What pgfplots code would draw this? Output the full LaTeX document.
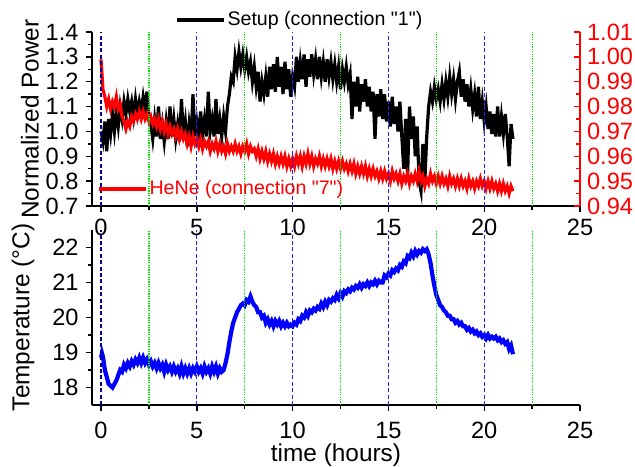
\documentclass[border=0pt]{standalone}
\usepackage{pgfplots}
\pgfplotsset{compat=1.18}
\usepackage{fontspec}
\setmainfont{Liberation Sans}[Ligatures=TeXOff]

\definecolor{vgreen}{RGB}{0,230,0}
\definecolor{vblue}{RGB}{30,30,255}
\definecolor{vnavy}{RGB}{0,0,150}

\pgfplotsset{
  every non boxed x axis/.style={},
  every non boxed y axis/.style={},
  /pgf/number format/assume math mode=true,
  base/.style={
    scale only axis, width=244pt,
    xmin=-0.47, xmax=25, enlargelimits=false,
    tick align=outside,
    major tick length=3.2pt, minor tick length=1.8pt,
    every tick/.style={black, line width=0.7pt},
    axis line style={-, line width=0.75pt},
    tick label style={font=\fontsize{11.8}{13}\selectfont},
    label style={font=\fontsize{12.2}{14}\selectfont},
    legend style={font=\fontsize{9.8}{11}\selectfont, draw=none, fill=none,
      inner sep=0pt, nodes={inner sep=1pt},
      /tikz/every even column/.append style={column sep=3pt}},
    legend image code/.code={\draw[#1] (0pt,0pt) -- (23.5pt,0pt);},
  },
  vl/.style={forget plot, line width=0.6pt},
  vgr/.style={vl, vgreen, dash pattern=on 0.6pt off 0.6pt},
  vbl/.style={vl, vblue, dash pattern=on 2pt off 1.2pt},
  vnv/.style={vl, vnavy, dash pattern=on 2pt off 1.2pt},
}

\begin{document}
\begin{tikzpicture}

% ---------------- bottom panel: temperature ----------------
\begin{axis}[base,
  at={(0,0)}, anchor=south west, height=87.5pt,
  axis x line*=bottom, axis y line*=left,
  ymin=17.5, ymax=22.5,
  xtick={0,5,10,15,20,25}, minor x tick num=1,
  ytick={18,19,20,21,22}, minor y tick num=1,
  xticklabel shift=2pt,
  xlabel={time (hours)}, ylabel={Temperature (°C)},
  xlabel style={at={(axis description cs:0.5,-0.286)}, anchor=center},
  ylabel style={at={(axis description cs:-0.141,0.5)}, anchor=center},
]
\addplot[blue, line width=2.1pt] coordinates {
(0.0,18.85)(0.05,18.98)(0.1,18.88)(0.15,18.7)(0.2,18.5)(0.3,18.3)(0.4,18.1)(0.5,18.05)(0.6,18.0)(0.7,18.1)
(0.8,18.2)(0.9,18.35)(1.0,18.5)(1.1,18.45)(1.2,18.65)(1.3,18.55)(1.4,18.7)(1.5,18.6)(1.6,18.75)(1.7,18.65)
(1.8,18.8)(1.9,18.7)(2.0,18.85)(2.1,18.7)(2.2,18.85)(2.3,18.7)(2.4,18.8)(2.5,18.65)(2.6,18.75)(2.7,18.6)
(2.8,18.7)(2.9,18.55)(3.0,18.7)(3.1,18.55)(3.2,18.65)(3.3,18.45)(3.4,18.65)(3.5,18.5)(3.6,18.6)(3.7,18.45)
(3.8,18.6)(3.9,18.45)(4.0,18.55)(4.1,18.4)(4.2,18.6)(4.3,18.4)(4.4,18.55)(4.5,18.4)(4.6,18.55)(4.7,18.4)
(4.8,18.55)(4.9,18.45)(5.0,18.6)(5.1,18.45)(5.2,18.55)(5.3,18.4)(5.4,18.6)(5.5,18.45)(5.6,18.55)(5.7,18.4)
(5.8,18.6)(5.9,18.45)(6.0,18.6)(6.1,18.4)(6.2,18.55)(6.3,18.45)(6.4,18.5)(6.5,18.7)(6.6,18.95)(6.7,19.3)
(6.8,19.6)(6.9,19.85)(7.0,20.0)(7.1,20.15)(7.2,20.25)(7.3,20.35)(7.4,20.4)(7.5,20.35)(7.6,20.5)(7.7,20.45)
(7.8,20.6)(7.9,20.45)(8.0,20.35)(8.1,20.3)(8.2,20.15)(8.3,20.15)(8.4,20.0)(8.5,20.05)(8.6,19.85)(8.7,19.95)
(8.8,19.8)(8.9,19.9)(9.0,19.75)(9.1,19.9)(9.2,19.8)(9.3,19.9)(9.4,19.75)(9.5,19.85)(9.6,19.75)(9.7,19.85)
(9.8,19.75)(9.9,19.8)(10.0,19.75)(10.1,19.85)(10.2,19.8)(10.3,19.95)(10.4,19.9)(10.5,20.05)(10.6,20.0)(10.7,20.15)
(10.8,20.05)(10.9,20.2)(11.0,20.15)(11.1,20.25)(11.2,20.2)(11.3,20.3)(11.4,20.25)(11.5,20.4)(11.6,20.3)(11.7,20.45)
(11.8,20.35)(11.9,20.5)(12.0,20.45)(12.1,20.55)(12.2,20.5)(12.3,20.65)(12.4,20.55)(12.5,20.7)(12.6,20.6)(12.7,20.75)
(12.8,20.7)(12.9,20.8)(13.0,20.75)(13.1,20.85)(13.2,20.8)(13.3,20.9)(13.4,20.85)(13.5,20.95)(13.6,20.85)(13.7,20.95)
(13.8,20.9)(13.9,21.0)(14.0,20.9)(14.1,21.0)(14.2,20.95)(14.3,21.05)(14.4,20.95)(14.5,21.05)(14.6,21.0)(14.7,21.0)
(14.8,21.2)(14.9,21.15)(15.0,21.25)(15.1,21.2)(15.2,21.35)(15.3,21.3)(15.4,21.4)(15.5,21.35)(15.6,21.5)(15.7,21.45)
(15.8,21.6)(15.9,21.55)(16.0,21.75)(16.1,21.7)(16.2,21.85)(16.3,21.75)(16.4,21.9)(16.5,21.8)(16.6,21.9)(16.7,21.85)
(16.8,21.95)(16.9,21.9)(17.0,21.95)(17.1,21.8)(17.2,21.55)(17.3,21.2)(17.4,20.9)(17.5,20.65)(17.6,20.5)(17.7,20.35)
(17.8,20.3)(17.9,20.2)(18.0,20.15)(18.1,20.05)(18.2,20.05)(18.3,19.95)(18.4,19.95)(18.5,19.85)(18.6,19.9)(18.7,19.8)
(18.8,19.85)(18.9,19.75)(19.0,19.75)(19.1,19.65)(19.2,19.7)(19.3,19.6)(19.4,19.65)(19.5,19.55)(19.6,19.6)(19.7,19.5)
(19.8,19.55)(19.9,19.45)(20.0,19.5)(20.1,19.4)(20.2,19.5)(20.3,19.4)(20.4,19.45)(20.5,19.4)(20.6,19.45)(20.7,19.35)
(20.8,19.4)(20.9,19.3)(21.0,19.35)(21.1,19.25)(21.2,19.3)(21.3,19.1)(21.4,19.2)(21.5,18.95)
};
\addplot[vnv] coordinates {(0,17.5)(0,22.5)};
\addplot[vgr] coordinates {(2.5,17.5)(2.5,22.5)};
\addplot[vbl] coordinates {(5,17.5)(5,22.5)};
\addplot[vgr] coordinates {(7.5,17.5)(7.5,22.5)};
\addplot[vbl] coordinates {(10,17.5)(10,22.5)};
\addplot[vgr] coordinates {(12.5,17.5)(12.5,22.5)};
\addplot[vbl] coordinates {(15,17.5)(15,22.5)};
\addplot[vgr] coordinates {(17.5,17.5)(17.5,22.5)};
\addplot[vbl] coordinates {(20,17.5)(20,22.5)};
\addplot[vgr] coordinates {(22.5,17.5)(22.5,22.5)};
\end{axis}

% ---------------- top panel: normalized power (left) ----------------
\begin{axis}[base,
  at={(0,99.5pt)}, anchor=south west, height=87pt,
  axis x line*=bottom, axis y line*=left,
  ymin=0.7, ymax=1.4,
  xtick={0,5,10,15,20,25}, minor x tick num=1,
  ytick={0.7,0.8,0.9,1.0,1.1,1.2,1.3,1.4}, minor y tick num=1,
  yticklabel style={/pgf/number format/.cd, fixed, fixed zerofill, precision=1},
  ylabel={Normalized Power},
  ylabel style={at={(axis description cs:-0.127,0.5)}, anchor=center},
  legend style={at={(axis description cs:0.170,1.069)}, anchor=west},
]
\addplot[black, line width=1.6pt] coordinates {
(0.0,1.00)(0.1,0.96)(0.2,1.04)(0.3,0.92)(0.4,1.05)(0.5,0.99)(0.6,1.07)(0.7,1.00)(0.8,1.08)(0.9,1.02)
(1.0,1.10)(1.1,1.05)(1.2,1.12)(1.3,1.07)(1.4,1.13)(1.5,1.08)(1.6,1.12)(1.7,1.06)(1.8,1.13)(1.9,1.07)
(2.0,1.12)(2.1,1.08)(2.2,1.14)(2.3,1.09)(2.4,1.16)(2.5,1.06)(2.6,1.03)(2.7,0.97)(2.8,1.05)(2.9,0.98)
(3.0,1.10)(3.1,0.97)(3.2,1.03)(3.3,0.96)(3.4,1.04)(3.5,0.97)(3.6,1.10)(3.7,0.98)(3.8,1.05)(3.9,0.97)
(4.0,1.03)(4.1,0.96)(4.2,1.13)(4.3,0.98)(4.4,1.04)(4.5,0.94)(4.6,1.03)(4.7,0.97)(4.8,1.15)(4.9,0.98)
(5.0,1.04)(5.1,0.98)(5.2,1.08)(5.3,0.99)(5.4,1.05)(5.5,0.98)(5.6,1.16)(5.7,1.00)(5.8,1.05)(5.9,0.98)
(6.0,1.13)(6.1,0.99)(6.2,1.05)(6.3,0.98)(6.4,1.06)(6.5,1.00)(6.6,1.10)(6.7,1.15)(6.8,1.22)(6.9,1.20)
(7.0,1.30)(7.1,1.25)(7.2,1.32)(7.3,1.26)(7.4,1.31)(7.5,1.25)(7.6,1.30)(7.7,1.24)(7.8,1.28)(7.9,1.20)
(8.0,1.26)(8.1,1.18)(8.2,1.24)(8.3,1.12)(8.4,1.20)(8.5,1.15)(8.6,1.22)(8.7,1.14)(8.8,1.26)(8.9,1.17)
(9.0,1.27)(9.1,1.16)(9.2,1.30)(9.3,1.18)(9.4,1.26)(9.5,1.15)(9.6,1.28)(9.7,1.17)(9.8,1.25)(9.9,1.14)
(10.0,1.22)(10.1,1.18)(10.2,1.30)(10.3,1.20)(10.4,1.28)(10.5,1.21)(10.6,1.31)(10.7,1.18)(10.8,1.29)(10.9,1.22)
(11.0,1.31)(11.1,1.23)(11.2,1.29)(11.3,1.21)(11.4,1.30)(11.5,1.22)(11.6,1.28)(11.7,1.20)(11.8,1.29)(11.9,1.22)
(12.0,1.28)(12.1,1.21)(12.2,1.27)(12.3,1.20)(12.4,1.26)(12.5,1.17)(12.6,1.25)(12.7,1.20)(12.8,1.26)(12.9,1.19)
(13.0,1.23)(13.1,1.05)(13.2,1.20)(13.3,1.10)(13.4,1.22)(13.5,1.08)(13.6,1.19)(13.7,1.12)(13.8,1.21)(13.9,1.10)
(14.0,1.18)(14.1,1.08)(14.2,1.16)(14.3,0.97)(14.4,1.15)(14.5,1.06)(14.6,1.17)(14.7,1.05)(14.8,1.15)(14.9,1.04)
(15.0,1.12)(15.1,1.02)(15.2,1.14)(15.3,1.03)(15.4,1.10)(15.5,1.00)(15.6,1.12)(15.7,0.98)(15.8,0.85)(15.9,1.05)
(16.0,0.82)(16.1,1.10)(16.2,0.97)(16.3,1.06)(16.4,0.90)(16.5,1.02)(16.6,0.80)(16.7,0.76)(16.8,0.95)(16.9,0.80)
(17.0,0.98)(17.1,1.10)(17.2,1.16)(17.3,1.12)(17.4,1.18)(17.5,1.13)(17.6,1.17)(17.7,1.12)(17.8,1.19)(17.9,1.13)
(18.0,1.20)(18.1,1.14)(18.2,1.22)(18.3,1.15)(18.4,1.21)(18.5,1.13)(18.6,1.20)(18.7,1.24)(18.8,1.14)(18.9,1.21)
(19.0,1.12)(19.1,1.19)(19.2,1.10)(19.3,1.17)(19.4,1.09)(19.5,1.15)(19.6,1.06)(19.7,1.18)(19.8,1.05)(19.9,1.12)
(20.0,1.04)(20.1,1.10)(20.2,1.01)(20.3,1.08)(20.4,0.99)(20.5,1.07)(20.6,0.98)(20.7,1.10)(20.8,0.98)(20.9,1.06)
(21.0,0.99)(21.1,1.07)(21.2,0.98)(21.3,0.86)(21.4,1.03)(21.5,0.97)
};
\legend{Setup (connection "1")}
\end{axis}

% ---------------- top panel: HeNe (right axis) ----------------
\begin{axis}[base,
  at={(0,99.5pt)}, anchor=south west, height=87pt,
  axis x line=none, axis y line*=right,
  ymin=0.94, ymax=1.01,
  ytick={0.94,0.95,0.96,0.97,0.98,0.99,1.00,1.01}, minor y tick num=1,
  ytick align=inside,
  yticklabel style={red, /pgf/number format/.cd, fixed, fixed zerofill, precision=2},
  y axis line style={red},
  every y tick/.style={red, line width=0.7pt},
  legend style={at={(axis description cs:0.0102,0.098)}, anchor=west, text=red},
]
\addplot[red, line width=1.6pt] coordinates {
(0.0,0.999)(0.05,0.993)(0.1,0.987)(0.2,0.984)(0.3,0.980)(0.4,0.983)(0.5,0.979)(0.6,0.982)(0.7,0.980)(0.8,0.984)
(0.9,0.979)(1.0,0.981)(1.1,0.976)(1.2,0.974)(1.3,0.971)(1.4,0.974)(1.5,0.972)(1.6,0.976)(1.7,0.974)(1.8,0.977)
(1.9,0.975)(2.0,0.978)(2.1,0.975)(2.2,0.978)(2.3,0.975)(2.4,0.977)(2.5,0.974)(2.6,0.976)(2.7,0.973)(2.8,0.975)
(2.9,0.972)(3.0,0.975)(3.1,0.971)(3.2,0.974)(3.3,0.970)(3.4,0.973)(3.5,0.969)(3.6,0.972)(3.7,0.969)(3.8,0.971)
(3.9,0.968)(4.0,0.971)(4.1,0.967)(4.2,0.970)(4.3,0.967)(4.4,0.969)(4.5,0.965)(4.6,0.968)(4.7,0.964)(4.8,0.968)
(4.9,0.965)(5.0,0.967)(5.1,0.964)(5.2,0.967)(5.3,0.963)(5.4,0.966)(5.5,0.964)(5.6,0.966)(5.7,0.962)(5.8,0.965)
(5.9,0.963)(6.0,0.966)(6.1,0.962)(6.2,0.965)(6.3,0.962)(6.4,0.964)(6.5,0.961)(6.6,0.965)(6.7,0.962)(6.8,0.964)
(6.9,0.962)(7.0,0.965)(7.1,0.962)(7.2,0.964)(7.3,0.961)(7.4,0.964)(7.5,0.962)(7.6,0.965)(7.7,0.961)(7.8,0.964)
(7.9,0.962)(8.0,0.963)(8.1,0.960)(8.2,0.963)(8.3,0.959)(8.4,0.962)(8.5,0.959)(8.6,0.962)(8.7,0.958)(8.8,0.961)
(8.9,0.958)(9.0,0.961)(9.1,0.957)(9.2,0.960)(9.3,0.957)(9.4,0.960)(9.5,0.957)(9.6,0.960)(9.7,0.956)(9.8,0.959)
(9.9,0.956)(10.0,0.959)(10.1,0.956)(10.2,0.960)(10.3,0.957)(10.4,0.960)(10.5,0.956)(10.6,0.960)(10.7,0.957)(10.8,0.961)
(10.9,0.957)(11.0,0.960)(11.1,0.956)(11.2,0.959)(11.3,0.957)(11.4,0.960)(11.5,0.956)(11.6,0.959)(11.7,0.956)(11.8,0.959)
(11.9,0.956)(12.0,0.959)(12.1,0.955)(12.2,0.958)(12.3,0.955)(12.4,0.958)(12.5,0.955)(12.6,0.958)(12.7,0.955)(12.8,0.957)
(12.9,0.954)(13.0,0.957)(13.1,0.954)(13.2,0.957)(13.3,0.953)(13.4,0.956)(13.5,0.953)(13.6,0.956)(13.7,0.953)(13.8,0.956)
(13.9,0.952)(14.0,0.955)(14.1,0.952)(14.2,0.955)(14.3,0.952)(14.4,0.954)(14.5,0.951)(14.6,0.954)(14.7,0.951)(14.8,0.954)
(14.9,0.951)(15.0,0.953)(15.1,0.950)(15.2,0.954)(15.3,0.951)(15.4,0.953)(15.5,0.950)(15.6,0.953)(15.7,0.949)(15.8,0.952)
(15.9,0.950)(16.0,0.953)(16.1,0.949)(16.2,0.952)(16.3,0.950)(16.4,0.953)(16.5,0.950)(16.6,0.954)(16.7,0.950)(16.8,0.952)
(16.9,0.948)(17.0,0.951)(17.1,0.949)(17.2,0.953)(17.3,0.950)(17.4,0.952)(17.5,0.949)(17.6,0.952)(17.7,0.949)(17.8,0.952)
(17.9,0.949)(18.0,0.951)(18.1,0.948)(18.2,0.952)(18.3,0.949)(18.4,0.951)(18.5,0.948)(18.6,0.951)(18.7,0.948)(18.8,0.951)
(18.9,0.948)(19.0,0.950)(19.1,0.947)(19.2,0.951)(19.3,0.948)(19.4,0.950)(19.5,0.947)(19.6,0.950)(19.7,0.948)(19.8,0.951)
(19.9,0.948)(20.0,0.950)(20.1,0.947)(20.2,0.950)(20.3,0.947)(20.4,0.950)(20.5,0.947)(20.6,0.949)(20.7,0.946)(20.8,0.949)
(20.9,0.946)(21.0,0.949)(21.1,0.946)(21.2,0.948)(21.3,0.945)(21.4,0.948)(21.5,0.946)
};
\legend{HeNe (connection "7")}
\addplot[vnv] coordinates {(0,0.94)(0,1.01)};
\addplot[vgr] coordinates {(2.5,0.94)(2.5,1.01)};
\addplot[vbl] coordinates {(5,0.94)(5,1.01)};
\addplot[vgr] coordinates {(7.5,0.94)(7.5,1.01)};
\addplot[vbl] coordinates {(10,0.94)(10,1.01)};
\addplot[vgr] coordinates {(12.5,0.94)(12.5,1.01)};
\addplot[vbl] coordinates {(15,0.94)(15,1.01)};
\addplot[vgr] coordinates {(17.5,0.94)(17.5,1.01)};
\addplot[vbl] coordinates {(20,0.94)(20,1.01)};
\addplot[vgr] coordinates {(22.5,0.94)(22.5,1.01)};
\end{axis}

\pgfresetboundingbox
\path (-46pt,-30.5pt) rectangle (271.5pt,202.5pt);
\end{tikzpicture}
\end{document}
